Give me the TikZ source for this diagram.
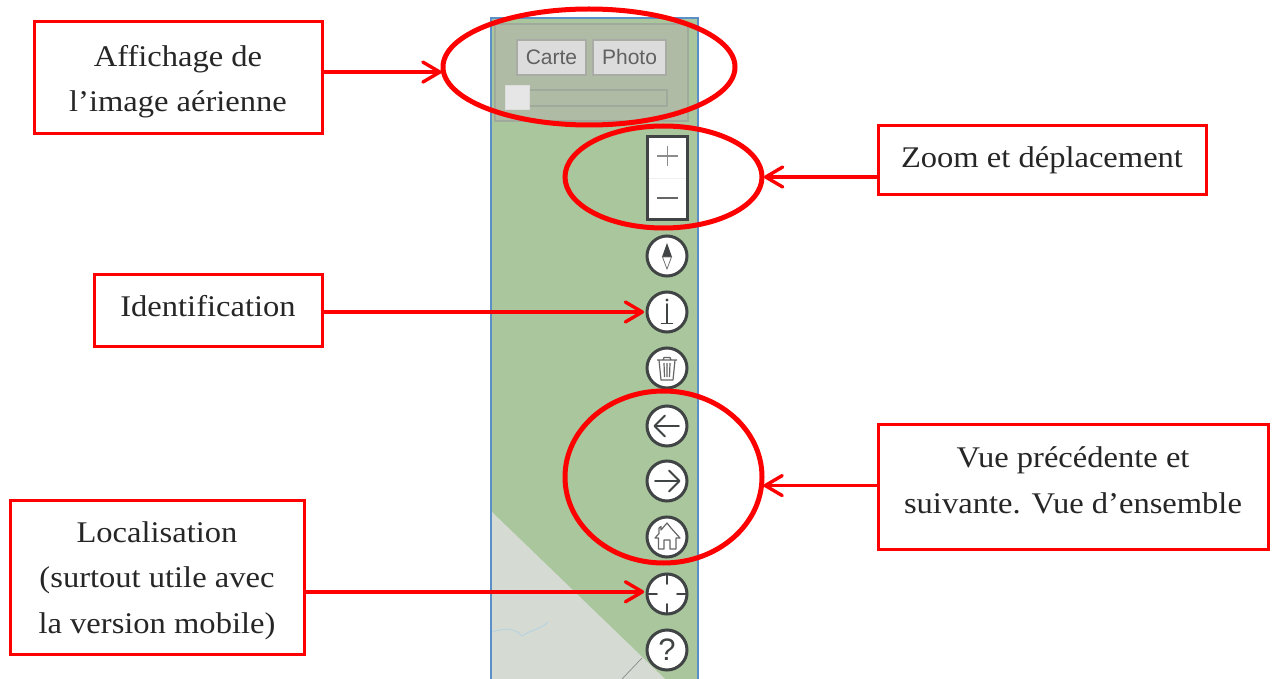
\documentclass[tikz,border=0pt]{standalone}
\usepackage{fontspec}
\setmainfont[FakeStretch=1.085]{Liberation Serif}
\newfontfamily\uifont{Liberation Sans}
\usetikzlibrary{shapes.geometric,arrows.meta,positioning}
\definecolor{mapgreen}{HTML}{A9C69D}
\definecolor{mapgray}{HTML}{D5DBD3}
\definecolor{panelblue}{HTML}{5B8FC7}
\definecolor{panelfill}{HTML}{AFBBA4}
\definecolor{panelline}{HTML}{A0AA9C}
\definecolor{btnfill}{HTML}{DCDCDC}
\definecolor{btnline}{HTML}{A8ACA5}
\definecolor{icondark}{HTML}{404444}
\definecolor{riverblue}{HTML}{B9D3DE}
% vertical nudges of a label inside its box
\newcommand{\nudgeup}[1]{\rule[-\dimexpr 7pt+2\dimexpr #1\relax\relax]{0pt}{\dimexpr 7pt+2\dimexpr #1\relax\relax}}
\newcommand{\nudgedown}[1]{\rule{0pt}{\dimexpr 22pt+2\dimexpr #1\relax\relax}}
\tikzset{
  x=1pt,y=-1pt,
  labelbox/.style={draw=red,line width=3pt,fill=white,align=center,inner sep=0pt,
    font=\fontsize{30}{45.5}\selectfont,text=black!85},
  redring/.style={draw=red,line width=5pt,ellipse,inner sep=0pt,outer sep=0pt},
  pointer/.style={draw=red,line width=3.4pt,-{Straight Barb[length=17pt,width=20pt,line width=3.4pt,round]},shorten >=2pt},
  roundbtn/.style={circle,draw=icondark,line width=3pt,fill=white,minimum size=40pt,inner sep=0pt,outer sep=1pt},
  glyph/.style={draw=icondark,line width=1.9pt,line cap=round,line join=round},
  thinglyph/.style={draw=black!60,line width=1.2pt,line join=round},
  mapbtn/.style={draw=btnline,line width=1.2pt,fill=btnfill,inner sep=0pt,text=black!62,text height=15pt,text depth=0pt,
    font=\uifont\fontsize{21}{24}\selectfont},
}
\begin{document}
\begin{tikzpicture}
\useasboundingbox (0,0) rectangle (1274,679);
% map panel
\fill[mapgreen] (491,18) rectangle (698,679);
\fill[mapgray] (492,512) -- (665,679) -- (492,679) -- cycle;
\draw[riverblue,line width=1pt] (492,632) .. controls (505,628) and (515,628) .. (522,636) .. controls (530,630) and (540,630) .. (548,622);
\draw[black!45,line width=.7pt] (622,679) -- (642,658);
\draw[panelblue,line width=2pt] (491,679) -- (491,18) -- (698,18) -- (698,679);
% aerial image control
\draw[panelline,line width=1.4pt,fill=panelfill] (495,24) rectangle (688,121);
\node[mapbtn,minimum width=69pt,minimum height=35pt] (carte) at (551.5,57.5) {Carte};
\node[mapbtn,minimum width=73pt,minimum height=35pt] (photo) at (629.5,57.5) {Photo};
\draw[panelline,line width=1.2pt] (525,90) rectangle (667,106);
\node[fill=btnfill!70!white,draw=btnfill,minimum size=24pt,inner sep=0pt] (thumb) at (517,97) {};
% zoom control
\node[draw=icondark,line width=2.8pt,fill=white,minimum width=40pt,minimum height=83pt,inner sep=0pt] (zoomctl) at (667.5,178) {};
\draw[black!6,line width=.6pt] (649,178) -- (686,178);
\draw[black!45,line width=1.6pt] (657,156) -- (678,156) (667.5,146) -- (667.5,166);
\draw[black!60,line width=1.3pt] (657,198) -- (678,198);
% round buttons
\node[roundbtn] (compass) at (667,256) {};
\fill[icondark] (667,243) -- (672,257) -- (662,257) -- cycle;
\draw[black!55,line width=.8pt,fill=white] (662.5,257) -- (671.5,257) -- (667,269) -- cycle;
\node[roundbtn] (info) at (667,312) {};
\draw[glyph] (667,304) -- (667,323) (661.5,323.5) -- (672.5,323.5);
\fill[icondark] (667,300) circle (1.6);
\node[roundbtn] (trash) at (667,368) {};
\draw[thinglyph] (657,360) -- (677,360) (663,360) -- (664,357.5) -- (670,357.5) -- (671,360)
  (659,360) -- (661,380) -- (673,380) -- (675,360) (664,363) -- (664.5,377) (667,363) -- (667,377) (670,363) -- (669.5,377);
\node[roundbtn] (back) at (667,426) {};
\draw[glyph] (679,426) -- (655,426) (665,415.5) -- (654.5,426) -- (665,436.5);
\node[roundbtn] (forward) at (667,481) {};
\draw[glyph] (655,481) -- (679,481) (669,470.5) -- (679.5,481) -- (669,491.5);
\node[roundbtn] (home) at (667,537) {};
\draw[thinglyph] (655,538) -- (658.5,538) -- (658.5,549) -- (664,549) -- (664,540) -- (670,540) -- (670,549) -- (676,549) -- (676,538) -- (680,538) -- (671,528) -- (667,523) -- (661,530) -- (661,526.5) -- (659,528) -- (659,533.5) -- cycle;
\node[roundbtn] (locate) at (667,594) {};
\draw[glyph] (667,574) -- (667,584) (667,604) -- (667,614) (647,594) -- (657,594) (677,594) -- (687,594);
\node[roundbtn] (help) at (667,650) {\uifont\fontsize{31}{31}\selectfont\textcolor{icondark}{?}};
% red rings
\node[redring,minimum width=292pt,minimum height=116pt] (ringimage) at (589,67) {};
\node[redring,minimum width=197pt,minimum height=102pt] (ringzoom) at (663.5,177) {};
\node[redring,minimum width=197pt,minimum height=172pt] (ringnav) at (663.5,477) {};
% label boxes
\node[labelbox,minimum width=288pt,minimum height=112pt] (affichage) at (178,78) {\nudgedown{3pt}Affichage de\\l’image aérienne};
\node[labelbox,minimum width=328pt,minimum height=69pt] (zoomlabel) at (1042,160.5) {Zoom et déplacement};
\node[labelbox,minimum width=228pt,minimum height=72pt] (identlabel) at (208,310) {Identification\nudgeup{1pt}};
\node[labelbox,minimum width=390pt,minimum height=125pt] (vuelabel) at (1073,486.5) {Vue précédente et\\suivante. Vue d’ensemble\nudgeup{3pt}};
\node[labelbox,minimum width=294pt,minimum height=154pt] (loclabel) at (157,577) {\nudgedown{3pt}Localisation\\(surtout utile avec\\la version mobile)};
% connectors
\coordinate (imagetip) at (ringimage.182.4);
\coordinate (navtip) at (ringnav.-5.84);
\coordinate (locatetip) at (locate.174.5);
\draw[pointer] (affichage.east |- imagetip) -- (imagetip);
\draw[pointer] (zoomlabel.west |- ringzoom.east) -- (ringzoom.east);
\draw[pointer] (identlabel.east |- info.west) -- (info.west);
\draw[pointer] (vuelabel.west |- navtip) -- (navtip);
\draw[pointer] (loclabel.east |- locatetip) -- (locatetip);
\end{tikzpicture}
\end{document}
